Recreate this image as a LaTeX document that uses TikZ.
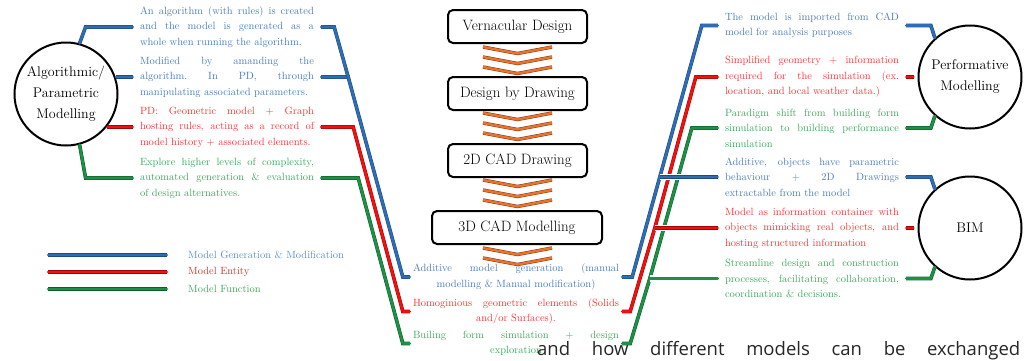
\documentclass[tikz,border=0pt]{standalone}
\usepackage{tikz}
\usetikzlibrary{calc}
\usepackage{fontspec}
\newfontfamily\osans{Open Sans}
\definecolor{lnB}{HTML}{2E6DB4}
\definecolor{lnBd}{HTML}{1D4A80}
\definecolor{lnR}{HTML}{F01010}
\definecolor{lnRd}{HTML}{A00808}
\definecolor{lnG}{HTML}{1E9045}
\definecolor{lnGd}{HTML}{0E5E2A}
\definecolor{txB}{HTML}{4A7EBB}
\definecolor{txR}{HTML}{FF3535}
\definecolor{txG}{HTML}{3DAA5C}
\definecolor{lgB}{HTML}{5C8FD0}
\definecolor{lgR}{HTML}{E03030}
\definecolor{lgG}{HTML}{3DAA5C}
\definecolor{chev}{HTML}{E8732E}
\definecolor{chevd}{HTML}{8A3A12}
\newcommand{\jl}[2][174pt]{\makebox[#1][s]{\spaceskip=.3333em plus 1fil\xspaceskip=\spaceskip #2}\\}
\newcommand{\cl}[2][206pt]{\makebox[#1][c]{#2}}
\begin{document}
\begin{tikzpicture}[x=1pt,y=-1pt,
  cline/.style={line width=2.6pt, line cap=round, line join=round},
  cB/.style={cline, draw=lnB, preaction={draw=lnBd, line width=3.6pt}},
  cR/.style={cline, draw=lnR, preaction={draw=lnRd, line width=3.6pt}},
  cG/.style={cline, draw=lnG, preaction={draw=lnGd, line width=3.6pt}},
  wb/.style={preaction={draw=white, line width=6.5pt, line cap=butt}},
  cir/.style={circle, draw, line width=2pt, minimum size=103pt, inner sep=0pt, align=center, font=\fontsize{14}{21}\selectfont},
  stage/.style={draw, line width=2pt, rounded corners=5pt, minimum height=33pt, inner sep=0pt, font=\fontsize{15}{17}\selectfont},
  blk/.style={inner sep=0pt, text width=174pt, align=left, font=\fontsize{10.5}{15.5}\selectfont},
  cblk/.style={blk, text width=206pt},
  leg/.style={anchor=west, inner sep=0pt, font=\fontsize{10.5}{12}\selectfont},
  chv/.style={draw=chev, line width=2.4pt, preaction={draw=chevd, line width=3.4pt}}]
\useasboundingbox (0,0) rectangle (1026,360);
\clip (0,0) rectangle (1026,360);

% circles
\node[cir] (alg) at (66,94) {Algorithmic/\\Parametric\\Modelling};
\node[cir] (perf) at (970,77) {Performative\\Modelling};
\node[cir] (bim) at (970,228) {BIM};

% stages
\node[stage, minimum width=139pt] (s1) at (517.5,26.5) {Vernacular Design};
\node[stage, minimum width=139pt] (s2) at (517.5,93.5) {Design by Drawing};
\node[stage, minimum width=139pt] (s3) at (517.5,160.5) {2D CAD Drawing};
\node[stage, minimum width=170pt] (s4) at (517,227.5) {3D CAD Modelling};

% chevrons
\foreach \yy in {47,57,67,113,123,133,180,190,200,248,258}
  \draw[chv] (483,\yy) -- (517.5,\yy+6.5) -- (552,\yy);

% left text blocks
\node[blk, text=txB] (L1) at (227,27) {\jl{An algorithm (with rules) is created}\jl{and the model is generated as a}whole when running the algorithm.};
\node[blk, text=txB] (L2) at (227,77) {\jl{Modified by amanding the}\jl{algorithm. In PD, through}manipulating associated parameters.};
\node[blk, text=txR] (L3) at (227,127) {\jl{PD: Geometric model + Graph}\jl{hosting rules, acting as a record of}model history + associated elements.};
\node[blk, text=txG] (L4) at (227,178) {\jl{Explore higher levels of complexity,}\jl{automated generation \& evaluation}of design alternatives.};

% right text blocks
\node[blk, text=txB] (P1) at (812,25.5) {\jl{The model is imported from CAD}model for analysis purposes};
\node[blk, text=txR] (P2) at (812,77) {\jl{Simplified geometry + information}\jl{required for the simulation (ex.}location, and local weather data.)};
\node[blk, text=txG] (P3) at (812,128) {\jl{Paradigm shift from building form}\jl{simulation to building performance}simulation};
\node[blk, text=txB] (B1) at (812,177) {\jl{Additive, objects have parametric}\jl{behaviour + 2D Drawings}extractable from the model};
\node[blk, text=txR] (B2) at (812,228) {\jl{Model as information container with}\jl{objects mimicking real objects, and}hosting structured information};
\node[blk, text=txG] (B3) at (812,278.5) {\jl{Streamline design and construction}\jl{processes, facilitating collaboration,}coordination \& decisions.};

% center bottom blocks
\node[cblk, text=txB] (C1) at (516,277) {\jl[206pt]{Additive model generation (manual}\cl{modelling \& Manual modification)}};
\node[cblk, text=txR] (C2) at (516,311.5) {\jl[206pt]{Homoginious geometric elements (Solids}\cl{and/or Surfaces).}};
\node[cblk, text=txG] (C3) at (516,343.5) {\jl[206pt]{Builing form simulation + design}\cl{exploration}};

% connectors: circle -> left blocks
\draw[cB] (alg.75) -- ($(alg.75 |- L1.west)+(6,0)$) -- ([xshift=-7pt]L1.west);
\draw[cB] (alg.18 |- L2.west) -- ([xshift=-7pt]L2.west);
\draw[cR] (alg.-38 |- L3.west) -- ([xshift=-7pt]L3.west);
\draw[cG] (alg.-75) -- ($(alg.-75 |- L4.west)+(6,0)$) -- ([xshift=-7pt]L4.west);

% left blocks -> center blocks
\coordinate (jB) at ($(L2.east)+(34,0)$);
\draw[cB] ([xshift=7pt]L2.east) -- (jB) -- ($(C1.west)+(-10,0)$) -- ([xshift=-3pt]C1.west);
\draw[cB] ([xshift=7pt]L1.east) -- ++(13,0) -- (jB);
\draw[cR] ([xshift=7pt]L3.east) -- ++(32,0) -- ($(C2.west)+(-10,0)$) -- ([xshift=-3pt]C2.west);
\draw[cG] ([xshift=7pt]L4.east) -- ++(37,0) -- ($(C3.west)+(-10,0)$) -- ([xshift=-3pt]C3.west);

% center blocks -> right blocks
\coordinate (rB) at ($(B1.west)+(-65,0)$);
\coordinate (rR) at ($(B2.west)+(-70,0)$);
\coordinate (rG) at ($(B3.west)+(-75,0)$);
\draw[cB] (rB) -- ($(P1.west)+(-23,0)$) -- ([xshift=-7pt]P1.west);
\draw[cR] (rR) -- ($(P2.west)+(-29,0)$) -- ([xshift=-7pt]P2.west);
\draw[cG] (rG) -- ($(P3.west)+(-33,0)$) -- ([xshift=-7pt]P3.west);
\draw[cB] ([xshift=3pt]C1.east) -- ++(10,0) -- (rB);
\draw[wb,cB] (rB) -- ([xshift=-7pt]B1.west);
\draw[cR] ([xshift=3pt]C2.east) -- ++(8,0) -- (rR);
\draw[wb,cR] (rR) -- ([xshift=-7pt]B2.west);
\draw[cG] ([xshift=3pt]C3.east) -- ++(8,0) -- (rG);
\draw[wb,cG] (rG) -- ([xshift=-7pt]B3.west);

% right blocks -> circles
\draw[cB] ([xshift=7pt]P1.east) -- ($(perf.132 |- P1.east)+(-4,0)$) -- (perf.132);
\draw[cR] ([xshift=7pt]P2.east) -- ([xshift=-4pt]perf.west);
\draw[cG] ([xshift=7pt]P3.east) -- ($(perf.-132 |- P3.east)+(-4,0)$) -- (perf.-132);
\draw[cB] ([xshift=7pt]B1.east) -- ($(bim.132 |- B1.east)+(-4,0)$) -- (bim.132);
\draw[cR] ([xshift=7pt]B2.east) -- ([xshift=-4pt]bim.west);
\draw[cG] ([xshift=7pt]B3.east) -- ($(bim.-132 |- B3.east)+(-4,0)$) -- (bim.-132);

% legend
\coordinate (lb0) at (48,255); \coordinate (lb1) at (167,255);
\coordinate (lr0) at (48,272); \coordinate (lr1) at (167,272);
\coordinate (lg0) at (48,289); \coordinate (lg1) at (167,289);
\draw[cB] (lb0) -- (lb1);
\draw[cR] (lr0) -- (lr1);
\draw[cG] (lg0) -- (lg1);
\node[leg, text=lgB] (legB) at (188,255) {Model Generation \& Modification};
\node[leg, text=lgR] (legR) at (188,272) {Model Entity};
\node[leg, text=lgG] (legG) at (188,289) {Model Function};

% bottom page text
\node[anchor=base west, inner sep=0pt, text=black!85, font=\osans\fontsize{18.5}{22}\selectfont] (bt) at (537,355.5) {\makebox[483pt][s]{\spaceskip=.26em plus 1fil\xspaceskip=\spaceskip and how different models can be exchanged}};
\end{tikzpicture}
\end{document}
